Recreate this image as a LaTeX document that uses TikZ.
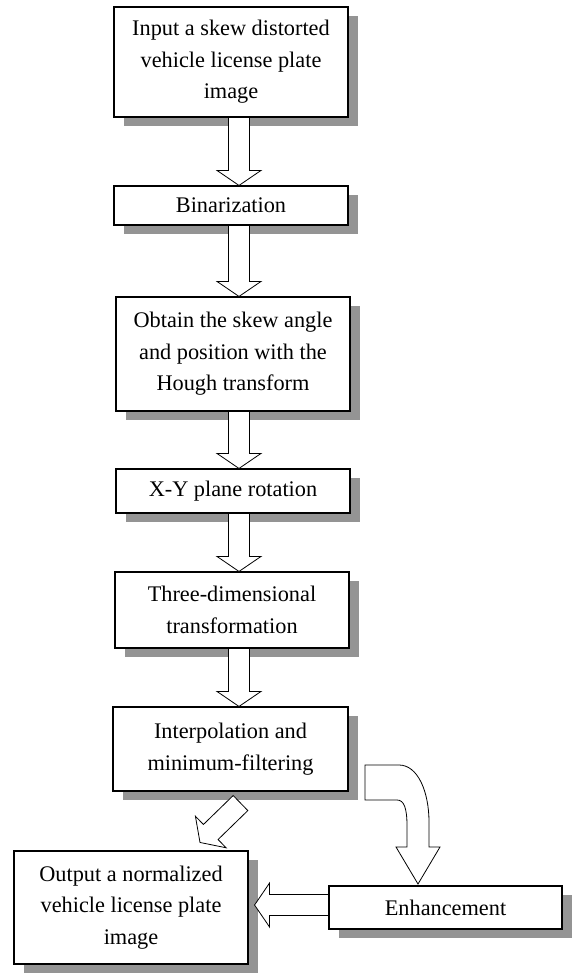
\documentclass[tikz,border=0pt]{standalone}
\usepackage{fontspec}
\setmainfont{Liberation Serif}
\usetikzlibrary{calc,shadows}
\tikzset{
  box/.style={draw=black, line width=1.1pt, fill=white, minimum width=234pt,
    inner sep=0pt, align=center, font=\fontsize{22.3}{31.5}\selectfont,
    drop shadow={shadow xshift=10pt, shadow yshift=-9pt, fill=black!42, opacity=1}},
  barrow/.style={draw=black, line width=0.8pt, fill=white, line join=miter},
}
\newcommand\blockarrow[2]{%
  \coordinate (baS) at #1;
  \coordinate (baE) at #2;
  \coordinate (baB) at ($(baE)!15pt!(baS)$);
  \draw[barrow] ($(baS)!10.5pt!90:(baE)$) -- ($(baB)!10.5pt!90:(baE)$)
    -- ($(baB)!22pt!90:(baE)$) -- (baE) -- ($(baB)!22pt!-90:(baE)$)
    -- ($(baB)!10.5pt!-90:(baE)$) -- ($(baS)!10.5pt!-90:(baE)$) -- cycle;}
\begin{document}
\begin{tikzpicture}[x=1pt,y=-1pt]
\useasboundingbox (0,0) rectangle (580,973);
\node[box, minimum height=110pt] (b1) at (231,62) {Input a skew distorted\\vehicle license plate\\image};
\node[box, minimum height=39pt] (b2) at (231,205.5) {Binarization};
\node[box, minimum height=114pt] (b3) at (233,354) {Obtain the skew angle\\and position with the\\Hough transform};
\node[box, minimum height=44pt] (b4) at (233,491) {X-Y plane rotation};
\node[box, minimum height=76pt] (b5) at (232,610) {Three-dimensional\\transformation};
\node[box, minimum height=84pt, minimum width=235pt] (b6) at (230.5,749) {Interpolation and\\minimum-filtering};
\node[box, minimum height=113pt] (b7) at (131,907.5) {Output a normalized\\vehicle license plate\\image};
\node[box, minimum height=43pt, minimum width=233pt] (b8) at (445.5,907.5) {Enhancement};
\coordinate (ax) at (239,0);
\blockarrow{(b1.south -| ax)}{(b2.north -| ax)}
\blockarrow{(b2.south -| ax)}{(b3.north -| ax)}
\blockarrow{(b3.south -| ax)}{(b4.north -| ax)}
\blockarrow{(b4.south -| ax)}{(b5.north -| ax)}
\blockarrow{(b5.south -| ax)}{(b6.north -| ax)}
\blockarrow{($(b6.south)+(10,11.5)$)}{($(b7.north)+(69,-8)$)}
\blockarrow{($(b8.west)+(0,-2.5)$)}{($(b7.east)+(6,-2.5)$)}
\draw[barrow] (365,765) -- (399,765) .. controls (418,765) and (429,792) .. (429,822)
  -- (429,847) -- (440,847) -- (418,884) -- (396,847) -- (407,847) -- (407,826)
  .. controls (407,808) and (404,800) .. (397,800) -- (365,800) -- cycle;
\end{tikzpicture}
\end{document}
